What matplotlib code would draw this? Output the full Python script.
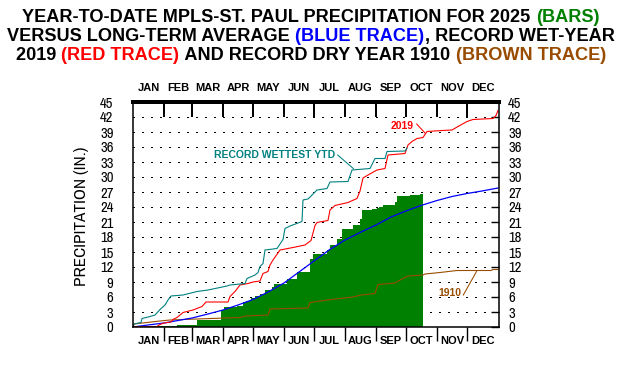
import numpy as np
import matplotlib
matplotlib.use("Agg")
import matplotlib.pyplot as plt
import matplotlib.transforms as mtrans
from matplotlib.transforms import blended_transform_factory
from matplotlib.textpath import TextToPath
from matplotlib.font_manager import FontProperties
from matplotlib.lines import Line2D

# ---------------- data ----------------
months = ["JAN", "FEB", "MAR", "APR", "MAY", "JUN", "JUL", "AUG", "SEP", "OCT", "NOV", "DEC"]
month_starts = [0, 31, 59, 90, 120, 151, 181, 212, 243, 273, 304, 334, 365]
y_ticks = list(range(0, 46, 3))

# 2025 year-to-date (green bars, step)
bar_days = [0, 25, 44, 64, 88, 91, 104, 110, 113, 118, 122, 127, 132, 139, 141, 154, 164,
            177, 180, 194, 197, 204, 209, 220, 227, 229, 239, 244, 246, 250, 262, 264, 277, 287]
bar_vals = [0.0, 0.2, 0.5, 1.5, 3.5, 4.0, 4.3, 5.0, 5.3, 5.8, 6.2, 6.7, 7.5, 8.1, 8.6, 9.7, 11.1,
            13.7, 14.7, 15.4, 16.4, 17.7, 19.7, 20.4, 21.7, 23.4, 23.6, 23.9, 24.1, 24.4, 25.1, 26.2, 26.4, 26.7]
bar_last_day = 290

# long-term average (blue)
avg_days = [0, 15, 31, 45, 59, 75, 90, 105, 120, 135, 151, 166, 181, 196, 212, 227, 243,
            258, 273, 288, 304, 319, 334, 349, 365]
avg_vals = [0.0, 0.4, 0.8, 1.3, 1.8, 2.6, 3.4, 4.4, 5.5, 7.0, 8.8, 11.0, 13.2, 15.4, 17.4, 18.9, 20.4,
            22.0, 23.2, 24.3, 25.3, 26.1, 26.7, 27.2, 27.8]

# record wet year 2019 (red)
wet_days = [0, 24, 27, 31, 38, 40, 44, 50, 60, 69, 73, 95, 97, 102, 107, 115, 120, 127, 130, 135,
            137, 140, 147, 160, 172, 178, 182, 184, 195, 197, 202, 215, 224, 227, 230, 235, 244,
            252, 255, 272, 275, 279, 284, 290, 294, 309, 319, 325, 334, 340, 360, 363, 365]
wet_vals = [0.0, 0.1, 0.5, 0.8, 1.0, 1.5, 1.9, 2.9, 3.4, 4.1, 5.0, 5.0, 6.1, 7.1, 8.4, 8.7, 9.0, 9.2, 10.7, 11.1,
            12.4, 13.4, 15.4, 15.9, 16.4, 17.3, 20.3, 20.9, 21.3, 23.4, 24.3, 24.9, 25.7, 27.2, 29.8, 30.4, 31.4,
            31.7, 34.4, 34.7, 36.4, 37.1, 37.7, 37.9, 39.1, 39.3, 39.4, 40.1, 41.1, 41.5, 41.7, 42.3, 43.3]

# record wettest year-to-date (teal)
ytd_days = [0, 1, 8, 9, 17, 22, 27, 32, 35, 38, 50, 64, 75, 94, 97, 112, 114, 122, 125, 127, 130,
            132, 144, 150, 152, 157, 169, 170, 175, 184, 194, 197, 215, 219, 237, 242, 252, 254, 272, 274]
ytd_vals = [0.0, 0.6, 0.9, 1.7, 2.1, 2.4, 3.5, 4.4, 5.4, 6.2, 6.4, 7.1, 7.4, 8.2, 8.4, 8.7, 9.7, 10.4, 10.9, 12.1, 12.7,
            15.4, 15.7, 17.5, 19.7, 20.2, 21.1, 25.4, 25.6, 27.4, 27.7, 29.0, 29.1, 31.4, 31.7, 33.7, 33.7, 35.1, 35.2, 35.8]

# record dry year 1910 (brown)
dry_days = [0, 1, 27, 37, 64, 107, 113, 135, 137, 175, 177, 194, 220, 228, 242, 245, 262, 269,
            275, 290, 292, 307, 324, 358, 360, 365]
dry_vals = [0.0, 0.6, 1.2, 1.4, 1.6, 1.9, 2.2, 2.4, 3.6, 3.8, 4.9, 5.4, 6.0, 6.4, 6.7, 8.5, 8.8, 9.6,
            10.2, 10.4, 10.6, 10.9, 11.3, 11.3, 11.5, 11.5]

GREEN = "#008000"
BLUE = "#0000FF"
RED = "#FF0000"
TEAL = "#008080"
BROWN = "#994C00"

BOLD_FAM = ["Liberation Sans", "DejaVu Sans"]
BOLD = dict(family=BOLD_FAM, weight="bold")
NARROW = ["Archivo Narrow", "Roboto Condensed", "Liberation Sans", "DejaVu Sans"]

W, H = 622, 366
fig = plt.figure(figsize=(W / 100, H / 100), dpi=100)
ax = fig.add_axes([133 / W, (H - 327) / H, 366 / W, 225 / H])
ax.set_xlim(0, 366)
ax.set_ylim(0, 45)

# dotted horizontal grid
ax.hlines(y_ticks[1:-1], 0, 366, colors="black", linewidth=0.72,
          linestyles=(0, (1.5, 7.4)), antialiased=False, zorder=1)

# green bars (step area)
fx = np.r_[bar_days, bar_last_day]
fy = np.r_[bar_vals, bar_vals[-1]]
ax.fill_between(fx, fy, step="post", color=GREEN, linewidth=0, zorder=2)

ax.plot(dry_days, dry_vals, color=BROWN, lw=0.8, zorder=3)
ax.plot(avg_days, avg_vals, color=BLUE, lw=0.9, zorder=4)
ax.plot(wet_days, wet_vals, color=RED, lw=0.8, zorder=5)
ax.plot(ytd_days, ytd_vals, color=TEAL, lw=0.8, zorder=6)

for sp in ax.spines.values():
    sp.set_linewidth(1.1)
    sp.set_color("black")
    sp.set_zorder(10)

# y axis: labels both sides, inward tick marks on the right only
ax.set_yticks(y_ticks)
ax.set_yticklabels([str(v) for v in y_ticks])
ax.tick_params(axis="y", which="major", left=False, right=True, labelleft=True, labelright=True,
               direction="in", length=6, width=1.0, pad=14)
offset_r = mtrans.ScaledTranslation(-7.5 / 72, 0, fig.dpi_scale_trans)
for t in ax.yaxis.get_major_ticks():
    for lab in (t.label1, t.label2):
        lab.set_fontfamily(NARROW)
        lab.set_fontweight("bold")
        lab.set_fontsize(10.5)
    t.label2.set_transform(t.label2.get_transform() + offset_r)

# month boundary ticks: bottom outside
ax.set_xticks(month_starts[1:-1])
ax.set_xticklabels([])
ax.tick_params(axis="x", which="major", bottom=True, top=False, direction="out",
               length=10, width=1.0)

# top frame line and inward month ticks (figure-level so they are drawn last)
xt = blended_transform_factory(ax.transData, ax.transAxes)
fig.add_artist(Line2D([0, 1], [1, 1], transform=ax.transAxes, color="black", lw=1.6,
                      antialiased=False, zorder=8))
for d in month_starts[1:-1]:
    fig.add_artist(Line2D([d, d], [1 - 14 / 225, 1], transform=xt, color="black", lw=1.2,
                          antialiased=False, zorder=8))

# month labels above and below
for i, m in enumerate(months):
    mid = (month_starts[i] + month_starts[i + 1]) / 2
    ax.text(mid, 1.064, m, transform=xt, ha="center", va="center", fontsize=8, **BOLD)
    ax.text(mid, -0.062, m, transform=xt, ha="center", va="center", fontsize=8, **BOLD)

# y label
fig.text(82 / W, 1 - 216 / H, "PRECIPITATION (IN.)", rotation=90, ha="center", va="center",
         fontsize=12.3, family=NARROW)

# annotations
ax.text(202.5, 34.4, "RECORD WETTEST YTD", color=TEAL, fontsize=7.5, ha="right", va="center", **BOLD)
ax.plot([204.7, 220.3], [34.4, 31.7], color=TEAL, lw=0.75)
ax.text(269, 40.2, "2019", color=RED, fontsize=7.5, ha="center", va="center", **BOLD)
ax.plot([283.7, 292], [40.6, 38.8], color=RED, lw=0.75)
ax.text(316.5, 6.7, "1910", color=BROWN, fontsize=7.5, ha="center", va="center", **BOLD)
ax.plot([330.3, 343.5], [6.4, 11.1], color=BROWN, lw=0.75)

# multi-colour title
title_lines = [
    [("YEAR-TO-DATE MPLS-ST. PAUL PRECIPITATION FOR 2025 ", "black"), ("(BARS)", GREEN)],
    [("VERSUS LONG-TERM AVERAGE ", "black"), ("(BLUE TRACE)", BLUE), (", RECORD WET-YEAR", "black")],
    [("2019 ", "black"), ("(RED TRACE)", RED), (" AND RECORD DRY YEAR 1910 ", "black"), ("(BROWN TRACE)", BROWN)],
]
baselines = [21.5, 41.0, 60.5]
TFS = 13.1
_ttp = TextToPath()
_prop = FontProperties(family=BOLD_FAM, weight="bold", size=TFS)


def text_width(s):
    """Advance width of s in pixels (uses a trailing 'X' so trailing spaces count)."""
    w1 = _ttp.get_text_width_height_descent(s + "X", _prop, ismath=False)[0]
    w2 = _ttp.get_text_width_height_descent("X", _prop, ismath=False)[0]
    return (w1 - w2) * fig.dpi / 72.0


for segs, yb in zip(title_lines, baselines):
    full = "".join(s for s, _ in segs)
    total = text_width(full)
    x0 = W / 2 - total / 2
    prefix = ""
    for s, c in segs:
        off = text_width(prefix) if prefix else 0.0
        fig.text((x0 + off) / W, 1 - yb / H, s, color=c, fontsize=TFS, ha="left", va="baseline", **BOLD)
        prefix += s

fig.savefig("out.png", dpi=100)
